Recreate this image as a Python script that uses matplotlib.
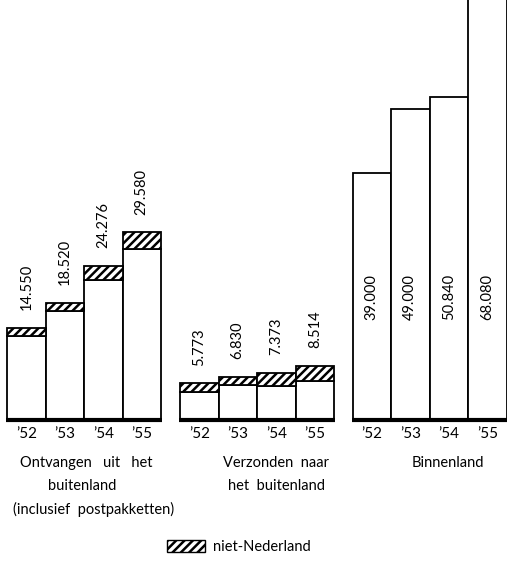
import numpy as np
import matplotlib.pyplot as plt
from matplotlib.patches import Patch

jaren = ["’52", "’53", "’54", "’55"]
ontvangen = [14550, 18520, 24276, 29580]
ontvangen_niet_nl = [1250, 1400, 2200, 2700]
verzonden = [5773, 6830, 7373, 8514]
verzonden_niet_nl = [1400, 1300, 2050, 2350]
binnenland = [39000, 49000, 50840, 68080]

plt.rcParams['font.family'] = ['Lato', 'DejaVu Sans']
plt.rcParams['hatch.linewidth'] = 1.8
plt.rcParams['hatch.color'] = 'black'

W, H = 507, 564
BASIS = 420          # pixels van boven tot de nullijn
BW = 38.5            # breedte van een staaf (px)
STARTS = [7, 180, 352.5]
FS = 10.5


def nl_getal(v):
    return f"{v:,}".replace(",", ".")


fig = plt.figure(figsize=(W / 100, H / 100), dpi=100)
ax = fig.add_axes([0, (H - BASIS) / H, 1, BASIS / H])
ax.set_xlim(0, W)
ax.set_ylim(0, 66200)
for s in ax.spines.values():
    s.set_visible(False)
ax.set_yticks([])

groepen = [
    (ontvangen, ontvangen_niet_nl, 'boven'),
    (verzonden, verzonden_niet_nl, 'boven'),
    (binnenland, [0, 0, 0, 0], 'binnen'),
]

centra = []
for g, (totaal, niet_nl, plaats) in enumerate(groepen):
    x = STARTS[g] + np.arange(len(jaren)) * BW
    totaal = np.array(totaal)
    niet_nl = np.array(niet_nl)
    ax.bar(x, totaal - niet_nl, width=BW, align='edge', color='white',
           edgecolor='black', lw=1.3)
    if niet_nl.sum() > 0:
        ax.bar(x, niet_nl, bottom=totaal - niet_nl, width=BW, align='edge',
               color='white', edgecolor='black', hatch='////', lw=1.3)
    ax.plot([x[0] - 1, x[-1] + BW + 1], [0, 0], color='black', lw=3,
            solid_capstyle='butt', clip_on=False)
    for xi, v in zip(x, totaal):
        if plaats == 'boven':
            ax.text(xi + BW / 2, v + 2800, nl_getal(v), rotation=90,
                    ha='center', va='bottom', fontsize=FS)
        else:
            ax.text(xi + BW / 2, 19400, nl_getal(v), rotation=90,
                    ha='center', va='center', fontsize=FS)
    centra.extend(x + BW / 2)

ax.set_xticks(centra)
ax.set_xticklabels(jaren * 3, fontsize=FS + 0.5)
ax.tick_params(axis='x', length=0, pad=5)


def ftekst(xp, yp, s, ha='center'):
    fig.text(xp / W, 1 - yp / H, s, ha=ha, va='center', fontsize=FS)


ftekst(86, 463, "Ontvangen   uit   het")
ftekst(82, 486, "buitenland")
ftekst(13, 509, "(inclusief  postpakketten)", ha='left')
ftekst(276, 463, "Verzonden  naar")
ftekst(277, 486, "het  buitenland")
ftekst(448, 463, "Binnenland")

fig.legend(handles=[Patch(facecolor='white', edgecolor='black', hatch='////',
                          label='niet-Nederland')],
           loc='center', bbox_to_anchor=(239 / W, 1 - 547 / H),
           frameon=False, fontsize=FS, handlelength=2.6, handleheight=0.9,
           handletextpad=0.6)

fig.savefig('out.png', dpi=100)
